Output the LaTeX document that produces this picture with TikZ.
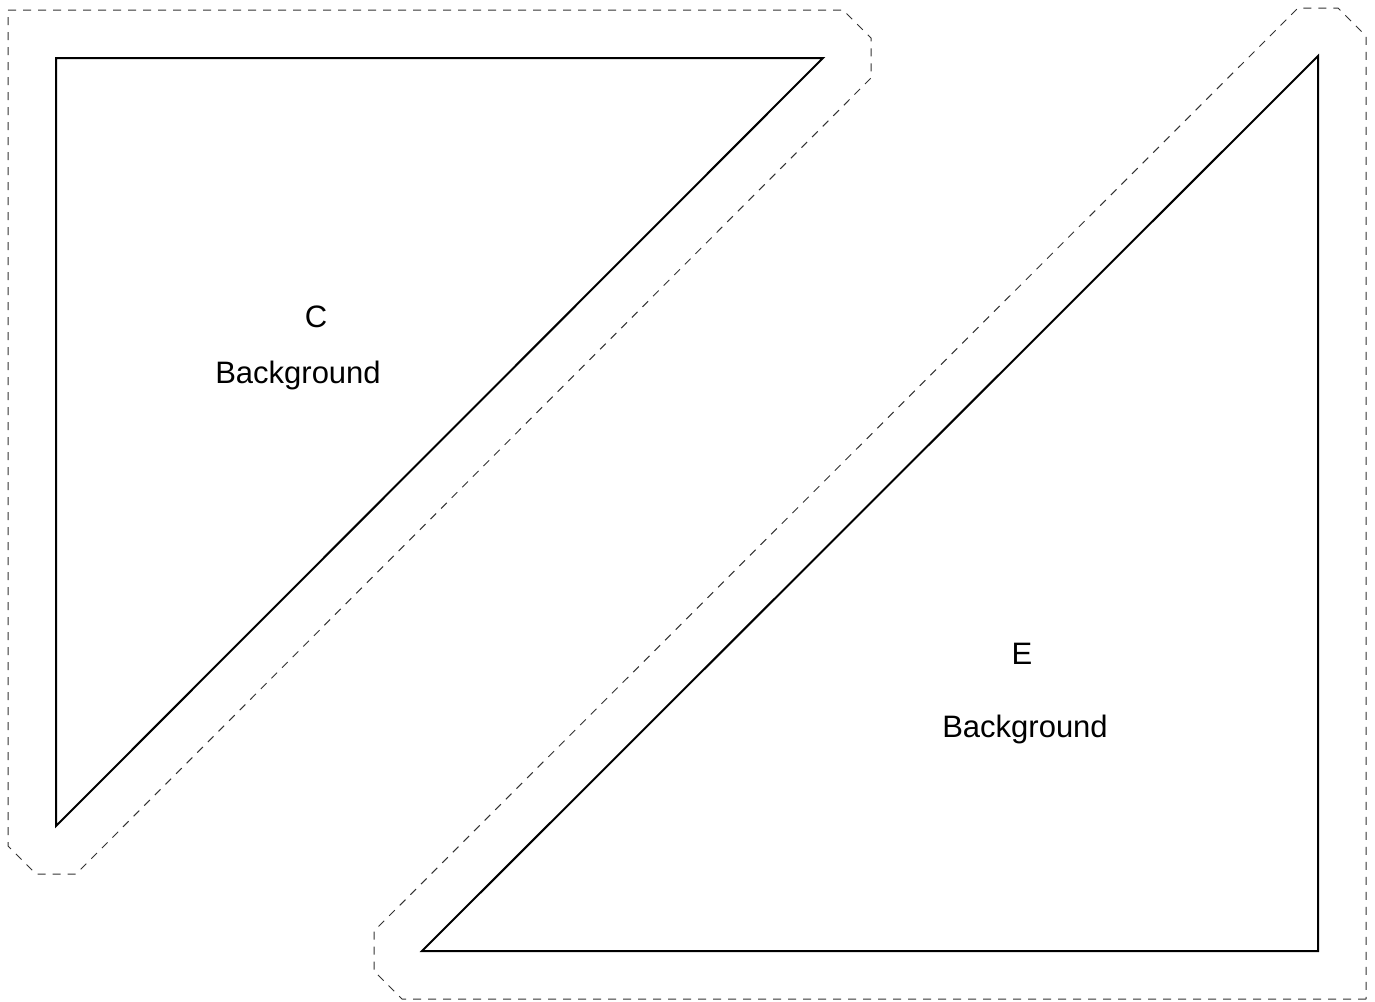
\documentclass[tikz,border=0pt]{standalone}
\usepackage{fontspec}
\setmainfont{Liberation Sans}
\usetikzlibrary{positioning}

\tikzset{
  tri/.style={line width=2pt, line join=miter},
  cutline/.style={black!80, line width=1pt, dash pattern=on 8pt off 7pt},
  lbl/.style={font=\fontsize{31}{37}\selectfont, anchor=base, inner sep=0pt}
}

\begin{document}
\begin{tikzpicture}[x=1pt,y=-1pt]
\useasboundingbox (0,0) rectangle (1375,1001);

\draw[tri] (56,58) -- (823,58) -- (56,826) -- cycle;
\draw[cutline] (8,10) -- (843,10) -- (871,38) -- (871,78) -- (76,874) -- (36,874) -- (8,846) -- cycle;

\draw[tri] (422,951) -- (1318,951) -- (1318,56) -- cycle;
\draw[cutline] (1366,999) -- (402,999) -- (374,971) -- (374,931) -- (1298,8) -- (1338,8) -- (1366,36) -- cycle;

\node[lbl] (cLetter) at (316,327) {C};
\node[lbl] (cBack) at (298,383) {Background};
\node[lbl] (eLetter) at (1022,664) {E};
\node[lbl] (eBack) at (1025,737) {Background};

\end{tikzpicture}
\end{document}
